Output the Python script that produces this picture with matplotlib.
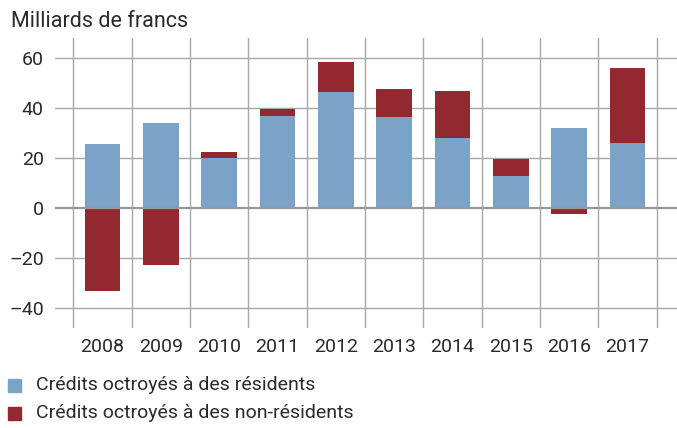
import matplotlib
matplotlib.use("Agg")
import matplotlib.pyplot as plt
from matplotlib.patches import Rectangle
import numpy as np

years = ["2008", "2009", "2010", "2011", "2012", "2013", "2014", "2015", "2016", "2017"]
residents = [25.5, 33.9, 19.9, 36.7, 46.3, 36.3, 27.9, 12.7, 31.9, 25.9]
non_residents = [-33.3, -22.9, 2.4, 2.8, 12.0, 11.2, 18.8, 6.8, -2.5, 30.0]
yticks = [-40, -20, 0, 20, 40, 60]
ytick_labels = ["\u201340", "\u201320", "0", "20", "40", "60"]
legend_labels = ["Crédits octroyés à des résidents", "Crédits octroyés à des non-résidents"]
title = "Milliards de francs"

blue = "#7ba3c8"
red = "#922830"
grid = "#a8a8a8"
txt = "#2a2a2a"
fs = 14

plt.rcParams['font.family'] = ['Roboto', 'DejaVu Sans']

fig = plt.figure(figsize=(6.77, 4.28), dpi=100)
ax = fig.add_axes([55/677, 1-328.3/428, 1-55/677, (328.3-37.7)/428])

x = np.arange(len(years))
res = np.array(residents)
non = np.array(non_residents)
bottom_non = np.where(non >= 0, np.maximum(res, 0), 0)

ax.bar(x, res, width=0.61, color=blue, zorder=2)
ax.bar(x, non, width=0.61, bottom=bottom_non, color=red, zorder=2)

ax.set_xlim(-0.814, 9.848)
ax.set_ylim(-48.2, 68)

for yv in yticks:
    if yv != 0:
        ax.axhline(yv, color=grid, lw=1.0, zorder=1)
for b in np.arange(-0.5, len(years), 1.0):
    ax.axvline(b, color=grid, lw=1.0, zorder=1)
ax.axhline(0, color="#999999", lw=1.6, zorder=3)

for s in ax.spines.values():
    s.set_visible(False)

ax.set_yticks(yticks)
ax.set_yticklabels(ytick_labels)
ax.set_xticks(x)
ax.set_xticklabels(years)
ax.tick_params(axis='both', length=0, labelsize=fs, colors=txt)
ax.tick_params(axis='y', pad=8)
ax.tick_params(axis='x', pad=7)

fig.text(11/677, 1-27.3/428, title, fontsize=15.5, color=txt, ha='left', va='baseline')

for i, (lab, col) in enumerate(zip(legend_labels, [blue, red])):
    yc = 385 + i*28
    fig.patches.append(Rectangle((8/677, 1-(yc+6.5)/428), 13/677, 13/428,
                                 transform=fig.transFigure, color=col, figure=fig))
    fig.text(36/677, 1-yc/428, lab, fontsize=fs, color=txt, ha='left', va='center')

fig.savefig("out.png", dpi=100)
